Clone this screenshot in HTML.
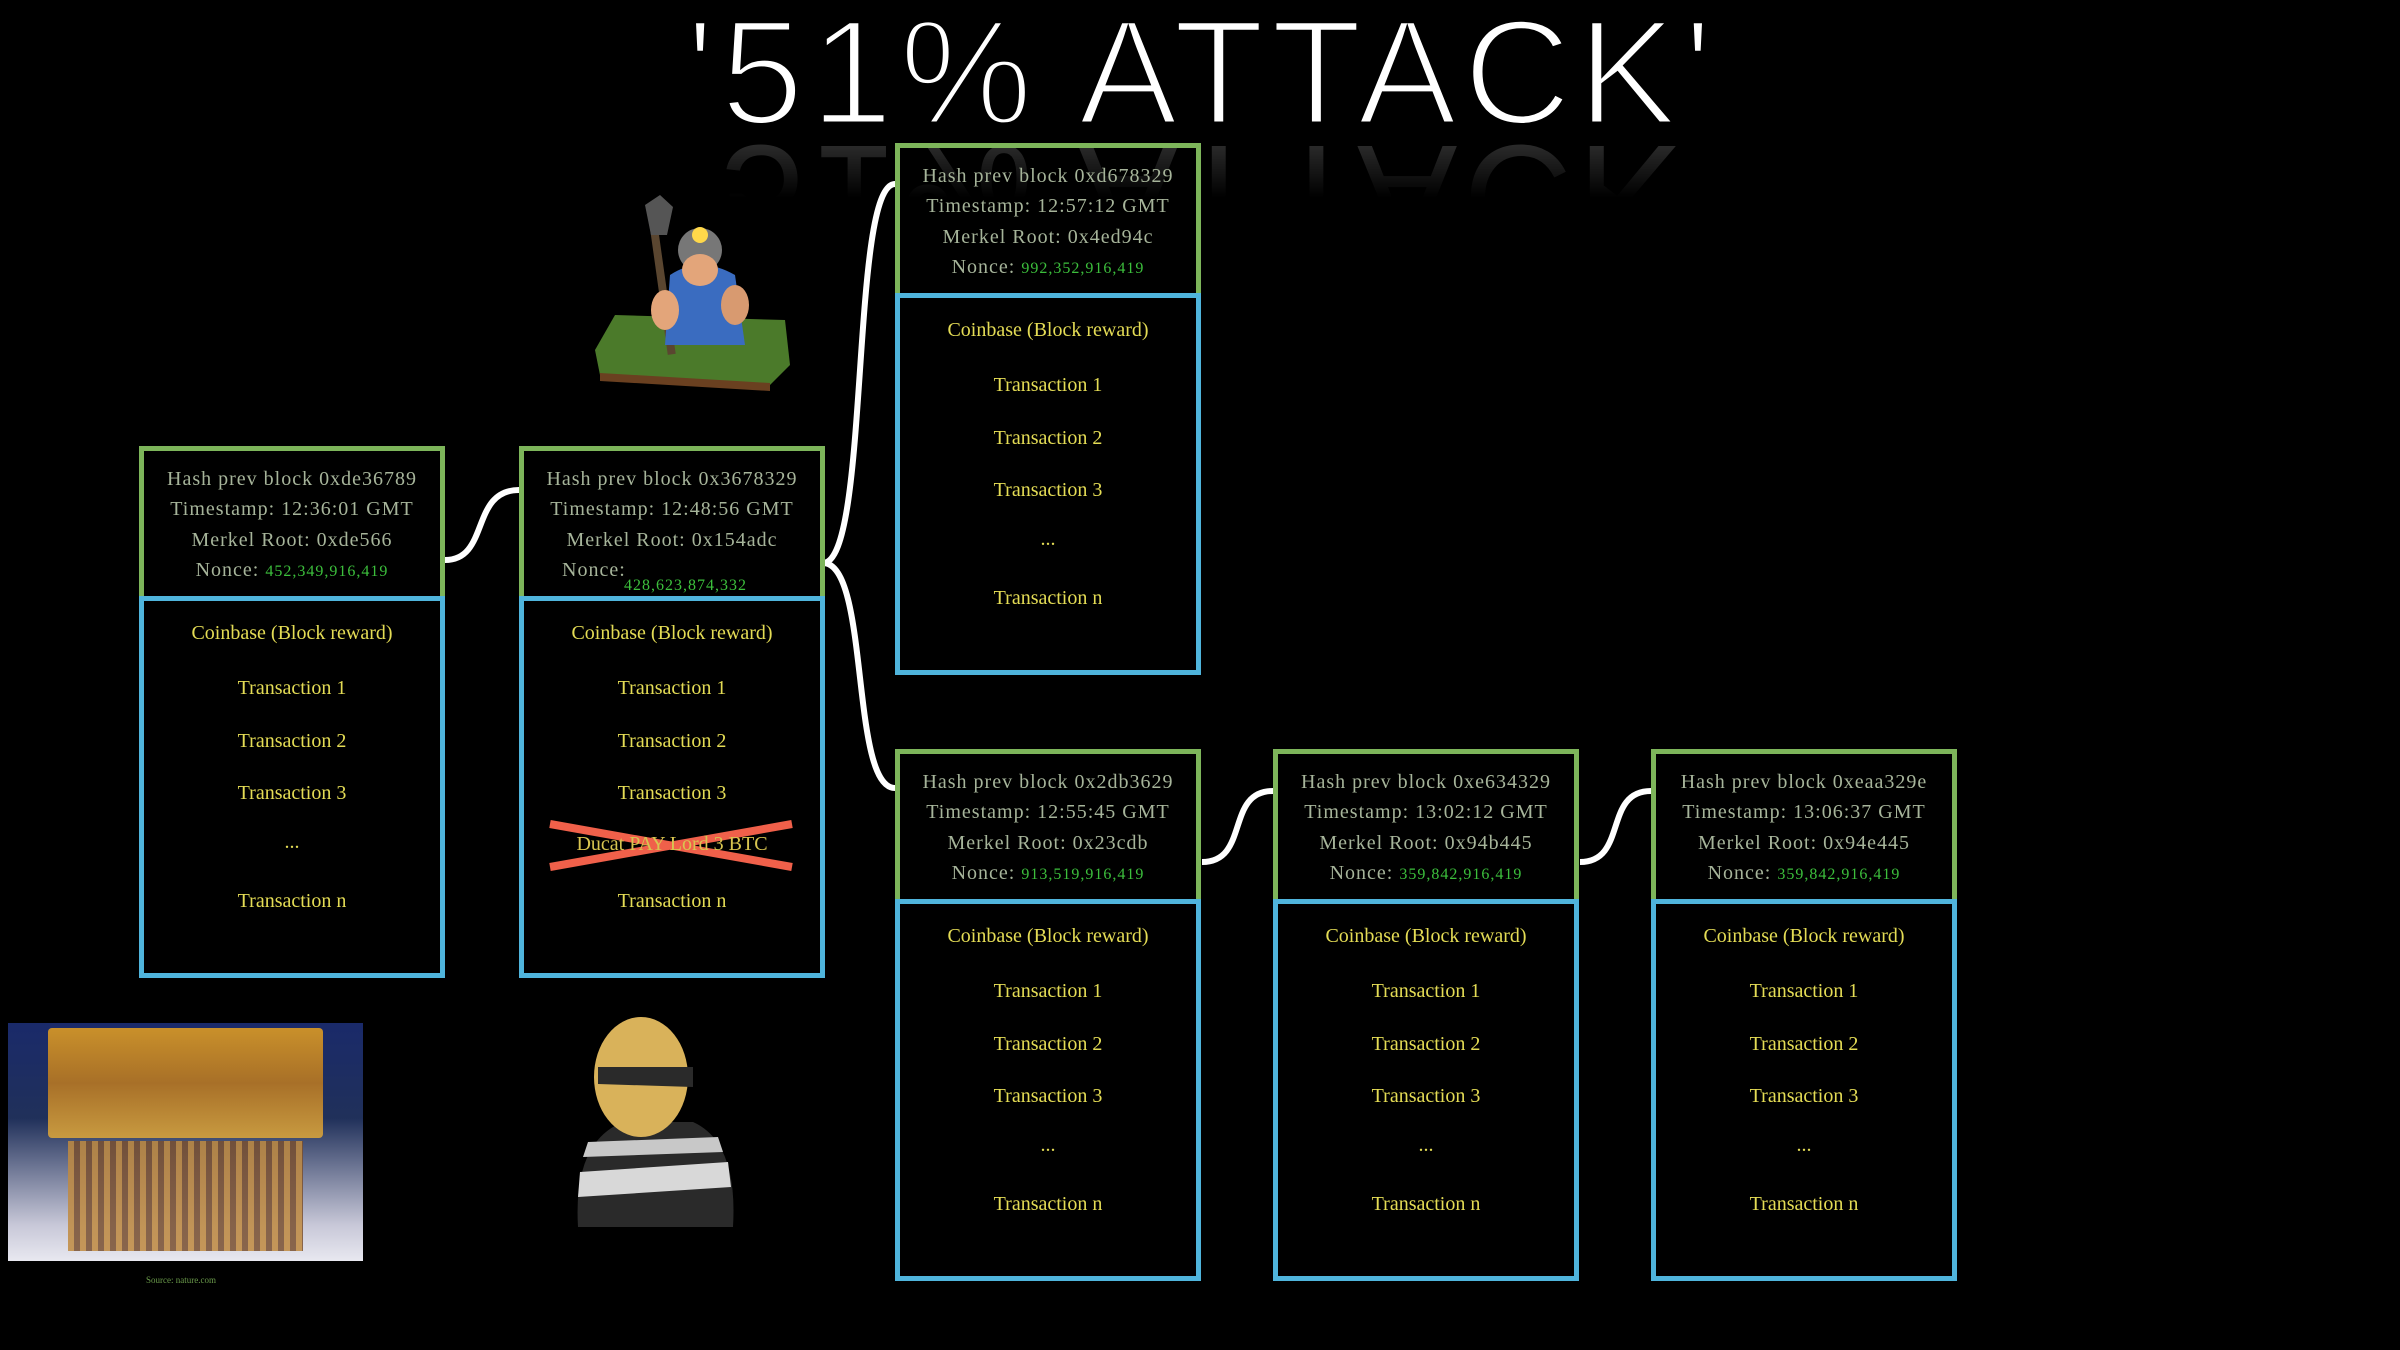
<!DOCTYPE html>
<html><head><meta charset="utf-8"><style>
html,body{margin:0;padding:0;background:#000;}
body{width:2400px;height:1350px;position:relative;overflow:hidden;font-family:"Liberation Serif",serif;}
.title{position:absolute;left:0;width:2404px;top:-8px;text-align:center;color:#fff;font-family:"Liberation Sans",sans-serif;font-size:150px;letter-spacing:6px;line-height:160px;-webkit-text-stroke:4px #000;paint-order:stroke fill;}
.title2{position:absolute;left:0;width:2404px;top:-8px;text-align:center;color:transparent;font-family:"Liberation Sans",sans-serif;font-size:150px;letter-spacing:6px;line-height:160px;-webkit-text-stroke:5px #000;}
.refl{position:absolute;left:0;width:2404px;top:118px;text-align:center;color:#fff;font-family:"Liberation Sans",sans-serif;font-size:150px;letter-spacing:6px;line-height:160px;transform:scaleY(-1);opacity:.25;-webkit-mask-image:linear-gradient(to top,rgba(0,0,0,1),rgba(0,0,0,0) 50%);mask-image:linear-gradient(to top,rgba(0,0,0,1),rgba(0,0,0,0) 50%);}
.blk{position:absolute;width:306px;height:532px;}
.hd{position:absolute;left:0;top:0;width:296px;height:145px;border:5px solid #7db55a;color:#a6b49a;font-size:20px;text-align:center;}
.hd div{position:absolute;left:0;width:100%;line-height:30px;white-space:nowrap;letter-spacing:1px;}
.bd{position:absolute;left:0;top:150px;width:296px;height:372px;border:5px solid #4fb4dc;color:#e4dc55;font-size:20px;text-align:center;}
.bd div{position:absolute;left:0;width:100%;line-height:30px;white-space:nowrap;}
.g{color:#3cbf3c;font-size:16px;}
</style></head><body>
<div class="refl">'51% ATTACK'</div>
<div class="title">'51% ATTACK'</div>
<div class="title2">'51% ATTACK'</div>

<svg width="2400" height="1350" style="position:absolute;left:0;top:0">
<g fill="none" stroke="#fff" stroke-width="6">
<path d="M445 560 C490 560,470 490,519 490"/>
<path d="M823 563 C870 563,850 184,895 184"/>
<path d="M823 563 C870 563,850 788,895 788"/>
<path d="M1202 862 C1250 862,1225 791,1273 791"/>
<path d="M1580 862 C1628 862,1603 791,1651 791"/>
</g>
<g stroke="#f0604a" stroke-width="8">
<line x1="550" y1="824" x2="792" y2="867"/>
<line x1="550" y1="867" x2="792" y2="824"/>
</g>
</svg>

<!-- Block 1 -->
<div class="blk" style="left:139px;top:446px">
<div class="hd"><div style="top:13px">Hash prev block 0xde36789</div><div style="top:43px">Timestamp: 12:36:01 GMT</div><div style="top:74px">Merkel Root: 0xde566</div><div style="top:104px">Nonce: <span class="g">452,349,916,419</span></div></div>
<div class="bd"><div style="top:17px">Coinbase (Block reward)</div><div style="top:72px">Transaction 1</div><div style="top:125px">Transaction 2</div><div style="top:177px">Transaction 3</div><div style="top:226px">...</div><div style="top:285px">Transaction n</div></div>
</div>
<!-- Block 2 -->
<div class="blk" style="left:519px;top:446px">
<div class="hd"><div style="top:13px">Hash prev block 0x3678329</div><div style="top:43px">Timestamp: 12:48:56 GMT</div><div style="top:74px">Merkel Root: 0x154adc</div><div style="top:104px;left:38px;width:auto;text-align:left">Nonce:</div><div style="top:120px;left:100px;width:auto;text-align:left" class="g">428,623,874,332</div></div>
<div class="bd"><div style="top:17px">Coinbase (Block reward)</div><div style="top:72px">Transaction 1</div><div style="top:125px">Transaction 2</div><div style="top:177px">Transaction 3</div><div style="top:228px;color:#d8c550">Ducat PAY Lord 3 BTC</div><div style="top:285px">Transaction n</div></div>
</div>
<!-- Top block -->
<div class="blk" style="left:895px;top:143px">
<div class="hd"><div style="top:13px">Hash prev block 0xd678329</div><div style="top:43px">Timestamp: 12:57:12 GMT</div><div style="top:74px">Merkel Root: 0x4ed94c</div><div style="top:104px">Nonce: <span class="g">992,352,916,419</span></div></div>
<div class="bd"><div style="top:17px">Coinbase (Block reward)</div><div style="top:72px">Transaction 1</div><div style="top:125px">Transaction 2</div><div style="top:177px">Transaction 3</div><div style="top:226px">...</div><div style="top:285px">Transaction n</div></div>
</div>
<!-- Bottom row -->
<div class="blk" style="left:895px;top:749px">
<div class="hd"><div style="top:13px">Hash prev block 0x2db3629</div><div style="top:43px">Timestamp: 12:55:45 GMT</div><div style="top:74px">Merkel Root: 0x23cdb</div><div style="top:104px">Nonce: <span class="g">913,519,916,419</span></div></div>
<div class="bd"><div style="top:17px">Coinbase (Block reward)</div><div style="top:72px">Transaction 1</div><div style="top:125px">Transaction 2</div><div style="top:177px">Transaction 3</div><div style="top:226px">...</div><div style="top:285px">Transaction n</div></div>
</div>
<div class="blk" style="left:1273px;top:749px">
<div class="hd"><div style="top:13px">Hash prev block 0xe634329</div><div style="top:43px">Timestamp: 13:02:12 GMT</div><div style="top:74px">Merkel Root: 0x94b445</div><div style="top:104px">Nonce: <span class="g">359,842,916,419</span></div></div>
<div class="bd"><div style="top:17px">Coinbase (Block reward)</div><div style="top:72px">Transaction 1</div><div style="top:125px">Transaction 2</div><div style="top:177px">Transaction 3</div><div style="top:226px">...</div><div style="top:285px">Transaction n</div></div>
</div>
<div class="blk" style="left:1651px;top:749px">
<div class="hd"><div style="top:13px">Hash prev block 0xeaa329e</div><div style="top:43px">Timestamp: 13:06:37 GMT</div><div style="top:74px">Merkel Root: 0x94e445</div><div style="top:104px">Nonce: <span class="g">359,842,916,419</span></div></div>
<div class="bd"><div style="top:17px">Coinbase (Block reward)</div><div style="top:72px">Transaction 1</div><div style="top:125px">Transaction 2</div><div style="top:177px">Transaction 3</div><div style="top:226px">...</div><div style="top:285px">Transaction n</div></div>
</div>

<!-- Miner -->
<svg width="220" height="200" style="position:absolute;left:585px;top:195px" viewBox="0 0 220 200">
<path d="M10 155 L30 120 L200 125 L205 170 L185 190 L15 180 Z" fill="#4b7a2a"/>
<path d="M15 178 L185 188 L185 196 L15 186 Z" fill="#6a4020"/>
<rect x="73" y="20" width="8" height="140" fill="#5a4630" transform="rotate(-8 77 90)"/>
<path d="M60 10 L75 0 L88 12 L82 40 L66 40 Z" fill="#555"/>
<circle cx="115" cy="55" r="22" fill="#777"/>
<circle cx="115" cy="40" r="8" fill="#ffd84a"/>
<path d="M85 80 Q115 60 150 80 L160 150 L80 150 Z" fill="#3a6cc0"/>
<ellipse cx="115" cy="75" rx="18" ry="16" fill="#e3a57a"/>
<ellipse cx="80" cy="115" rx="14" ry="20" fill="#e3a57a"/>
<ellipse cx="150" cy="110" rx="14" ry="20" fill="#d89a70"/>
</svg>

<!-- Quantum computer -->
<div style="position:absolute;left:8px;top:1023px;width:355px;height:238px;background:linear-gradient(to bottom,#1a2a6a 0%,#20305a 40%,#c8c8d8 85%,#e8e8f0 100%);overflow:hidden">
<div style="position:absolute;left:40px;top:5px;width:275px;height:110px;background:linear-gradient(to bottom,#c9902a,#a87028 50%,#c89a40);border-radius:4px"></div>
<div style="position:absolute;left:60px;top:118px;width:235px;height:110px;background:repeating-linear-gradient(90deg,#c08a40 0 6px,#7a5030 6px 12px);opacity:.85"></div>
</div>
<div style="position:absolute;left:146px;top:1275px;font-size:9px;color:#6a9a4a">Source: nature.com</div>

<!-- Thief -->
<svg width="170" height="230" style="position:absolute;left:568px;top:1012px" viewBox="0 0 170 230">
<path d="M10 215 Q5 130 55 110 L125 110 Q170 130 165 215 Z" fill="#2a2a2a"/>
<path d="M12 160 L160 150 L163 175 L10 185 Z" fill="#d8d8d8"/>
<path d="M20 130 L150 125 L155 140 L15 145 Z" fill="#c8c8c8"/>
<ellipse cx="73" cy="65" rx="47" ry="60" fill="#d9b25a"/>
<path d="M30 55 L125 55 L125 75 L30 72 Z" fill="#2a2a2a"/>
</svg>
</body></html>
